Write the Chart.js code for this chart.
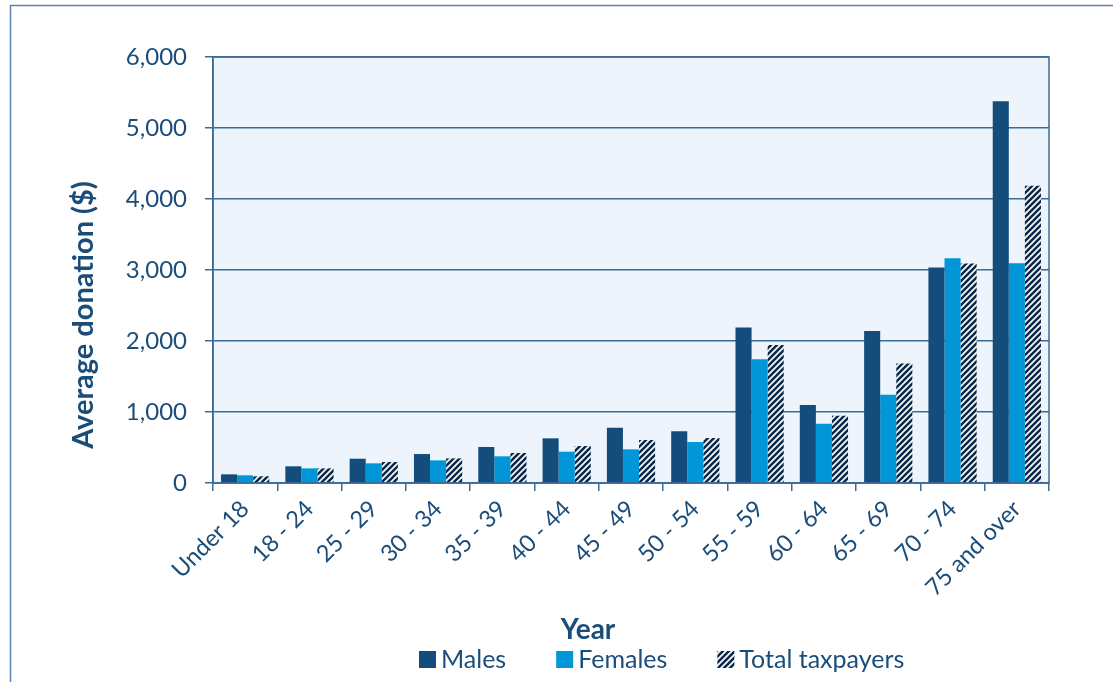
<!DOCTYPE html>
<html>
<head>
<meta charset="utf-8">
<script src="https://cdn.jsdelivr.net/npm/chart.js@4.4.1/dist/chart.umd.min.js"></script>
<style>
  html, body { margin: 0; padding: 0; background: #ffffff; }
  #wrap { position: relative; width: 1113px; height: 682px; }
  canvas { display: block; }
</style>
</head>
<body>
<div id="wrap"><canvas id="c" width="1113" height="682"></canvas></div>
<script>
const categories = ["Under 18", "18 - 24", "25 - 29", "30 - 34", "35 - 39", "40 - 44", "45 - 49", "50 - 54", "55 - 59", "60 - 64", "65 - 69", "70 - 74", "75 and over"];
const males = [122, 235, 342, 408, 507, 629, 779, 728, 2190, 1097, 2142, 3034, 5377];
const females = [108, 206, 277, 319, 376, 441, 474, 577, 1744, 834, 1242, 3165, 3094];
const totalTaxpayers = [94, 206, 296, 347, 423, 521, 606, 634, 1945, 947, 1683, 3090, 4187];
const seriesNames = ["Males", "Females", "Total taxpayers"];
const yTicks = [0, 1000, 2000, 3000, 4000, 5000, 6000];
const yTitle = "Average donation ($)";
const xTitle = "Year";

const TEXT = "#1A4D7A";
const MALE = "#144C7C";
const FEMALE = "#0096D7";
const NAVY = "#0E2A4A";
const GRID = "#3D6A96";
const FONT = "Lato, 'Open Sans', sans-serif";

function makeHatch() {
  const s = 6;
  const p = document.createElement("canvas");
  p.width = s; p.height = s;
  const g = p.getContext("2d");
  g.fillStyle = "#ffffff";
  g.fillRect(0, 0, s, s);
  g.strokeStyle = NAVY;
  g.lineWidth = 2.6;
  g.beginPath();
  g.moveTo(-1, s + 1); g.lineTo(s + 1, -1);
  g.moveTo(-s / 2 - 1, s / 2 + 1); g.lineTo(s / 2 + 1, -s / 2 - 1);
  g.moveTo(s / 2 - 1, s * 1.5 + 1); g.lineTo(s * 1.5 + 1, s / 2 - 1);
  g.stroke();
  return g.createPattern(p, "repeat");
}
const ctx0 = document.getElementById("c").getContext("2d");
const hatch = makeHatch();

const decor = {
  id: "decor",
  beforeDraw(chart) {
    const { ctx, chartArea: a } = chart;
    ctx.save();
    ctx.strokeStyle = "#5A83AD";
    ctx.lineWidth = 1.5;
    ctx.strokeRect(10.5, 5.5, 1200, 800);
    ctx.fillStyle = "#EDF4FB";
    ctx.fillRect(a.left, a.top, a.right - a.left, a.bottom - a.top);
    ctx.restore();
  },
  afterDraw(chart) {
    const { ctx, chartArea: a } = chart;
    ctx.save();
    ctx.strokeStyle = GRID;
    ctx.lineWidth = 1.5;
    ctx.strokeRect(a.left, a.top, a.right - a.left, a.bottom - a.top);
    ctx.fillStyle = TEXT;
    ctx.font = "bold 29px " + FONT;
    ctx.textAlign = "center";
    ctx.textBaseline = "middle";
    ctx.translate(84, 315);
    ctx.rotate(-Math.PI / 2);
    ctx.fillText(yTitle, 0, 0);
    ctx.restore();
    ctx.save();
    ctx.fillStyle = TEXT;
    ctx.font = "bold 28px " + FONT;
    ctx.textAlign = "center";
    ctx.textBaseline = "middle";
    ctx.fillText(xTitle, 588, 630);
    ctx.font = "25px " + FONT;
    ctx.textAlign = "left";
    let x = 419;
    const y = 659;
    const fills = [MALE, FEMALE, hatch];
    seriesNames.forEach((name, i) => {
      ctx.fillStyle = fills[i];
      ctx.fillRect(x, y - 8, 17, 17);
      ctx.fillStyle = TEXT;
      ctx.fillText(name, x + 22, y + 1);
      x += 22 + ctx.measureText(name).width + 50;
    });
    ctx.restore();
  }
};

new Chart(ctx0, {
  type: "bar",
  data: {
    labels: categories,
    datasets: [
      { label: seriesNames[0], data: males, backgroundColor: MALE },
      { label: seriesNames[1], data: females, backgroundColor: FEMALE },
      { label: seriesNames[2], data: totalTaxpayers, backgroundColor: hatch }
    ]
  },
  options: {
    responsive: false,
    animation: false,
    devicePixelRatio: 1,
    layout: { padding: { left: 0, right: 64, top: 57, bottom: 0 } },
    datasets: { bar: { categoryPercentage: 0.75, barPercentage: 1.0, borderWidth: 0 } },
    plugins: { legend: { display: false }, tooltip: { enabled: false }, title: { display: false } },
    scales: {
      x: {
        grid: { display: true, offset: true, drawOnChartArea: false, drawTicks: true, tickLength: 8, color: GRID, lineWidth: 1.5 },
        border: { display: true, color: GRID, width: 1.5 },
        ticks: { color: TEXT, font: { family: FONT, size: 23.5 }, maxRotation: 45, minRotation: 45, padding: 4, autoSkip: false },
        afterFit(scale) { scale.height = 199; }
      },
      y: {
        min: 0, max: 6000,
        afterBuildTicks(scale) { scale.ticks = yTicks.map(v => ({ value: v })); },
        grid: { color: GRID, lineWidth: 1.5, tickLength: 8, drawTicks: true },
        border: { display: true, color: GRID, width: 1.5 },
        ticks: { color: TEXT, font: { family: FONT, size: 24 }, padding: 18,
          callback: v => v.toLocaleString("en-US") },
        afterFit(scale) { scale.width = 213; }
      }
    }
  },
  plugins: [decor]
});
</script>
</body>
</html>
